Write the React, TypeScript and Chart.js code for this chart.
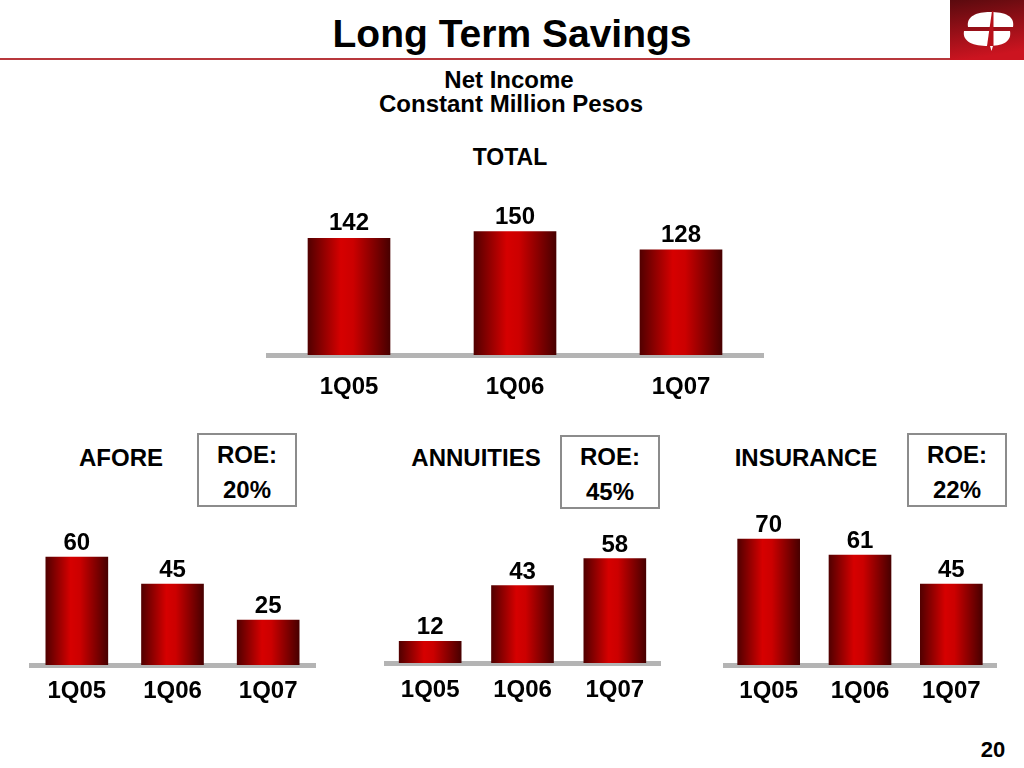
import React, { useEffect, useRef } from "react";
import { Chart, registerables } from "chart.js";

Chart.register(...registerables);

// ---- Data ----
const quarters = ["1Q05", "1Q06", "1Q07"];
const totalValues = [142, 150, 128];
const aforeValues = [60, 45, 25];
const annuitiesValues = [12, 43, 58];
const insuranceValues = [70, 61, 45];
const roeAfore = "20%";
const roeAnnuities = "45%";
const roeInsurance = "22%";
const pageNumber = "20";

const FONT = '"Liberation Sans", Arial, Helvetica, sans-serif';

const valueLabels = {
  id: "valueLabels",
  afterDatasetsDraw(chart: any, _args: any, opts: any) {
    const { ctx } = chart;
    const meta = chart.getDatasetMeta(0);
    const data = chart.data.datasets[0].data;
    ctx.save();
    ctx.font = `bold ${opts.size}px ${FONT}`;
    ctx.fillStyle = "#000";
    ctx.textAlign = "center";
    ctx.textBaseline = "alphabetic";
    meta.data.forEach((el: any, i: number) => {
      ctx.fillText(String(data[i]), el.x, el.y - opts.gap);
    });
    ctx.restore();
  },
};

function makeBg(thickness: number) {
  return (c: any) => {
    const chart = c.chart;
    const xs = chart.scales && chart.scales.x;
    if (!xs || c.type !== "data") return "#c00000";
    const cx = xs.getPixelForValue(c.dataIndex);
    if (!Number.isFinite(cx)) return "#c00000";
    const g = chart.ctx.createLinearGradient(cx - thickness / 2, 0, cx + thickness / 2, 0);
    g.addColorStop(0, "#520000");
    g.addColorStop(0.4, "#d60000");
    g.addColorStop(0.55, "#cc0000");
    g.addColorStop(1, "#480000");
    return g;
  };
}

type PanelProps = {
  values: number[];
  left: number;
  top: number;
  width: number;
  height: number;
  padTop: number;
  axisH: number;
  max: number;
  thickness: number;
  tickPad: number;
  gap: number;
};

function BarPanel(p: PanelProps) {
  const ref = useRef<HTMLCanvasElement>(null);
  useEffect(() => {
    if (!ref.current) return;
    const chart = new Chart(ref.current, {
      type: "bar",
      data: {
        labels: quarters,
        datasets: [
          {
            data: p.values,
            backgroundColor: makeBg(p.thickness),
            borderWidth: 0,
            barThickness: p.thickness,
          },
        ],
      },
      options: {
        responsive: false,
        animation: false,
        devicePixelRatio: 1,
        layout: { padding: { top: p.padTop, left: 0, right: 0, bottom: 0 } },
        plugins: {
          legend: { display: false },
          tooltip: { enabled: false },
          valueLabels: { size: 24, gap: p.gap },
        } as any,
        scales: {
          x: {
            grid: { display: false, drawTicks: false },
            border: { display: true, color: "#b4b4b4", width: 5 },
            ticks: {
              color: "#000",
              padding: p.tickPad,
              font: { family: FONT, size: 24, weight: "bold" },
              maxRotation: 0,
            },
            afterFit: (s: any) => {
              s.height = p.axisH;
            },
          },
          y: { display: false, min: 0, max: p.max },
        },
      },
      plugins: [valueLabels],
    });
    return () => chart.destroy();
  }, []);
  return (
    <canvas
      ref={ref}
      width={p.width}
      height={p.height}
      style={{ position: "absolute", left: p.left, top: p.top, width: p.width, height: p.height }}
    />
  );
}

function Txt(props: { x: number; y: number; size: number; children: React.ReactNode }) {
  return (
    <div
      style={{
        position: "absolute",
        left: props.x,
        top: props.y,
        transform: "translate(-50%, -50%)",
        fontFamily: FONT,
        fontWeight: "bold",
        fontSize: props.size,
        lineHeight: 1,
        whiteSpace: "nowrap",
        color: "#000",
      }}
    >
      {props.children}
    </div>
  );
}

function RoeBox(props: { left: number; top: number; value: string }) {
  return (
    <div
      style={{
        position: "absolute",
        left: props.left,
        top: props.top,
        width: 100,
        height: 74,
        boxSizing: "border-box",
        border: "2px solid #8c8c8c",
      }}
    >
      <Txt x={48} y={20} size={24}>ROE:</Txt>
      <Txt x={48} y={55} size={24}>{props.value}</Txt>
    </div>
  );
}

function Logo() {
  return (
    <svg
      width={74}
      height={60}
      viewBox="0 0 74 60"
      style={{ position: "absolute", left: 950, top: 0 }}
    >
      <defs>
        <linearGradient id="lg" x1="0" y1="0" x2="0.2" y2="1">
          <stop offset="0" stopColor="#5a0a0e" />
          <stop offset="1" stopColor="#cc1420" />
        </linearGradient>
      </defs>
      <rect x={0} y={0} width={74} height={60} fill="url(#lg)" />
      <path d="M18 27 C16 16 27 12 40 12 C55 12 65 16 63 27 Z" fill="#fff" />
      <path d="M14 31 L60 31 C62 42 52 46 38 46 C24 46 12 42 14 31 Z" fill="#fff" />
      <polygon points="40,46 43,46 41.5,51" fill="#fff" />
      <polygon points="42,11 43.5,11 43.5,46 37,46" fill="#b8101a" />
    </svg>
  );
}

export default function App() {
  return (
    <div
      style={{
        position: "fixed",
        left: 0,
        top: 0,
        width: 1024,
        height: 768,
        background: "#fff",
        overflow: "hidden",
      }}
    >
      <Txt x={512} y={33} size={39}>Long Term Savings</Txt>
      <div style={{ position: "absolute", left: 0, top: 58, width: 950, height: 2, background: "#b8383c" }} />
      <Logo />
      <Txt x={509} y={80} size={24}>Net Income</Txt>
      <Txt x={511} y={104} size={24}>Constant Million Pesos</Txt>
      <Txt x={510} y={157} size={23}>TOTAL</Txt>

      <BarPanel values={totalValues} left={266} top={190} width={498} height={210} padTop={17} axisH={45} max={180} thickness={82} tickPad={18} gap={8} />

      <Txt x={121} y={458} size={24}>AFORE</Txt>
      <Txt x={476} y={458} size={24}>ANNUITIES</Txt>
      <Txt x={806} y={458} size={24}>INSURANCE</Txt>
      <RoeBox left={197} top={433} value={roeAfore} />
      <RoeBox left={560} top={435} value={roeAnnuities} />
      <RoeBox left={907} top={433} value={roeInsurance} />

      <BarPanel values={aforeValues} left={29} top={510} width={287} height={197} padTop={11} axisH={42} max={80} thickness={62} tickPad={12} gap={7} />
      <BarPanel values={annuitiesValues} left={384} top={508} width={277} height={197} padTop={11} axisH={42} max={80} thickness={62} tickPad={13} gap={7} />
      <BarPanel values={insuranceValues} left={723} top={510} width={274} height={197} padTop={11} axisH={42} max={80} thickness={62} tickPad={12} gap={7} />

      <Txt x={993} y={750} size={22}>{pageNumber}</Txt>
    </div>
  );
}
